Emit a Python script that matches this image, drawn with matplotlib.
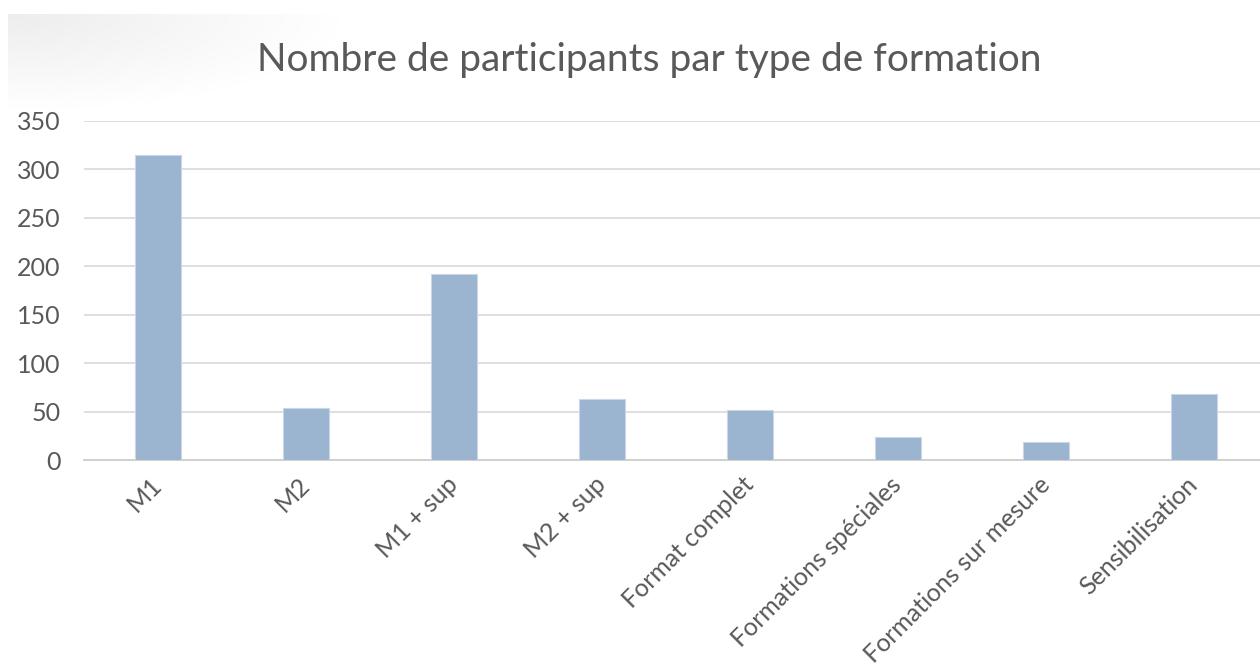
import numpy as np
import matplotlib
matplotlib.use("Agg")
import matplotlib.pyplot as plt

categories = ["M1", "M2", "M1 + sup", "M2 + sup", "Format complet",
              "Formations spéciales", "Formations sur mesure", "Sensibilisation"]
values = [315, 54, 192, 63, 52, 24, 19, 68]
yticks = [0, 50, 100, 150, 200, 250, 300, 350]
title = "Nombre de participants par type de formation"

plt.rcParams['font.family'] = ['Lato', 'DejaVu Sans']

W, H = 1260, 670
fig = plt.figure(figsize=(W / 100, H / 100), dpi=100)
fig.patch.set_facecolor('white')

# subtle shadow in the top-left corner
bg = fig.add_axes([0, 0, 1, 1], zorder=-10)
yy, xx = np.mgrid[0:H, 0:W]
d = np.sqrt(((xx - 10) / 330.0) ** 2 + ((yy - 15) / 95.0) ** 2)
shade = np.clip(1 - d, 0, 1) * 0.07
shade[(yy < 14) | (xx < 8)] = 0
img = np.ones((H, W, 3)) - shade[..., None]
bg.imshow(img, extent=[0, W, H, 0], aspect='auto')
bg.axis('off')

left = 84 / W
right = 1.0
bottom = 1 - 460 / H
top = 1 - 121 / H
ax = fig.add_axes([left, bottom, right - left, top - bottom])
ax.patch.set_alpha(0)

x = np.arange(len(categories))
ax.bar(x, values, width=0.31, color='#9bb4cf', edgecolor='#c9d7e6', linewidth=0.8, zorder=3)

ax.set_ylim(0, 350)
ax.set_xlim(-0.5, 7.5 - 8 / 148)
ax.set_yticks(yticks)
ax.set_yticklabels([str(v) for v in yticks])
ax.yaxis.grid(True, color='#d9d9d9', linewidth=1.2, zorder=0)
ax.set_axisbelow(True)
for s in ['top', 'right', 'left']:
    ax.spines[s].set_visible(False)
ax.spines['bottom'].set_color('#d0d0d0')
ax.spines['bottom'].set_linewidth(1.4)
ax.tick_params(axis='both', length=0, colors='#595959')
ax.tick_params(axis='y', pad=17, labelsize=18)
ax.set_xticks(x)
ax.set_xticklabels(categories, rotation=45, ha='right', va='center',
                   rotation_mode='anchor')
ax.tick_params(axis='x', pad=15, labelsize=18)

fig.text(649 / W, 1 - 60 / H, title, ha='center', va='center',
         fontsize=28, color='#595959')

fig.savefig('out.png', dpi=100, facecolor='white')
